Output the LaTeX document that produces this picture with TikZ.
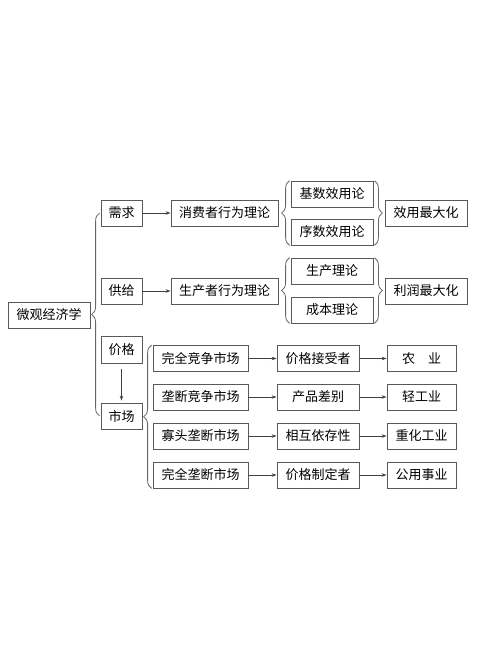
\documentclass[tikz,border=0pt]{standalone}
\usepackage{fontspec}
\newfontfamily\cjk{Noto Sans CJK SC}
\usetikzlibrary{arrows.meta,decorations.pathreplacing}
\begin{document}
\begin{tikzpicture}[x=1pt,y=-1pt,
        box/.style={draw=black!65,line width=.8pt,minimum height=26pt,inner sep=0pt,font=\cjk\fontsize{13}{15}\selectfont},
        arr/.style={draw=black!75,line width=.7pt,-{Stealth[length=5pt,width=3.5pt]}},
        brc/.style={draw=black!60,line width=.8pt,decorate,decoration={brace,amplitude=8pt}}]
        \useasboundingbox (0,0) rectangle (500,667);
        % left column
        \node[box,minimum width=82pt] (econ) at (49,315) {微观经济学};
        \node[box,minimum width=41pt] (demand) at (121.5,213) {需求};
        \node[box,minimum width=41pt] (supply) at (121.5,291) {供给};
        \node[box,minimum width=41pt,minimum height=27pt] (price) at (121.5,349.5) {价格};
        \node[box,minimum width=41pt] (market) at (121.5,416) {市场};
        % demand and supply
        \node[box,minimum width=107pt] (consumer) at (224.5,213) {消费者行为理论};
        \node[box,minimum width=107pt] (producer) at (224.5,291) {生产者行为理论};
        \node[box,minimum width=82pt] (cardinal) at (332,194) {基数效用论};
        \node[box,minimum width=82pt] (ordinal) at (332,232) {序数效用论};
        \node[box,minimum width=82pt] (production) at (332,271) {生产理论};
        \node[box,minimum width=82pt] (cost) at (332,310) {成本理论};
        \node[box,minimum width=82pt] (utilmax) at (426,213) {效用最大化};
        \node[box,minimum width=82pt] (profitmax) at (426,291) {利润最大化};
        % market structures
        \node[box,minimum width=95pt] (perfect) at (200.5,358.5) {完全竞争市场};
        \node[box,minimum width=95pt] (monocomp) at (200.5,397) {垄断竞争市场};
        \node[box,minimum width=95pt] (oligopoly) at (200.5,436) {寡头垄断市场};
        \node[box,minimum width=95pt] (monopoly) at (200.5,475) {完全垄断市场};
        \node[box,minimum width=82pt] (taker) at (318,358.5) {价格接受者};
        \node[box,minimum width=82pt] (differ) at (318,397) {产品差别};
        \node[box,minimum width=82pt] (depend) at (318,436) {相互依存性};
        \node[box,minimum width=82pt] (maker) at (318,475) {价格制定者};
        \node[box,minimum width=69pt] (agri) at (421.5,358.5) {农\hspace{1em}业};
        \node[box,minimum width=69pt] (light) at (421.5,397) {轻工业};
        \node[box,minimum width=69pt] (heavy) at (421.5,436) {重化工业};
        \node[box,minimum width=69pt] (utility) at (421.5,475) {公用事业};
        % braces
        \draw[brc] ([xshift=-1pt]market.west) -- ([xshift=-1pt]demand.west);
        \draw[brc] ([xshift=-1pt]ordinal.south west) -- ([xshift=-1pt]cardinal.north west);
        \draw[brc] ([xshift=1pt]cardinal.north east) -- ([xshift=1pt]ordinal.south east);
        \draw[brc] ([xshift=-1pt]cost.south west) -- ([xshift=-1pt]production.north west);
        \draw[brc] ([xshift=1pt]production.north east) -- ([xshift=1pt]cost.south east);
        \draw[brc] ([xshift=-1pt]monopoly.south west) -- ([xshift=-1pt]perfect.north west);
        % arrows
        \draw[arr] (demand) -- (consumer);
        \draw[arr] (supply) -- (producer);
        \draw[arr,shorten <=6pt,shorten >=2pt] (price) -- (market);
        \foreach \a/\b/\c in {perfect/taker/agri,monocomp/differ/light,oligopoly/depend/heavy,monopoly/maker/utility}{
                \draw[arr] (\a) -- (\b);
                \draw[arr] (\b) -- (\c);
        }
        \end{tikzpicture}
\end{document}
